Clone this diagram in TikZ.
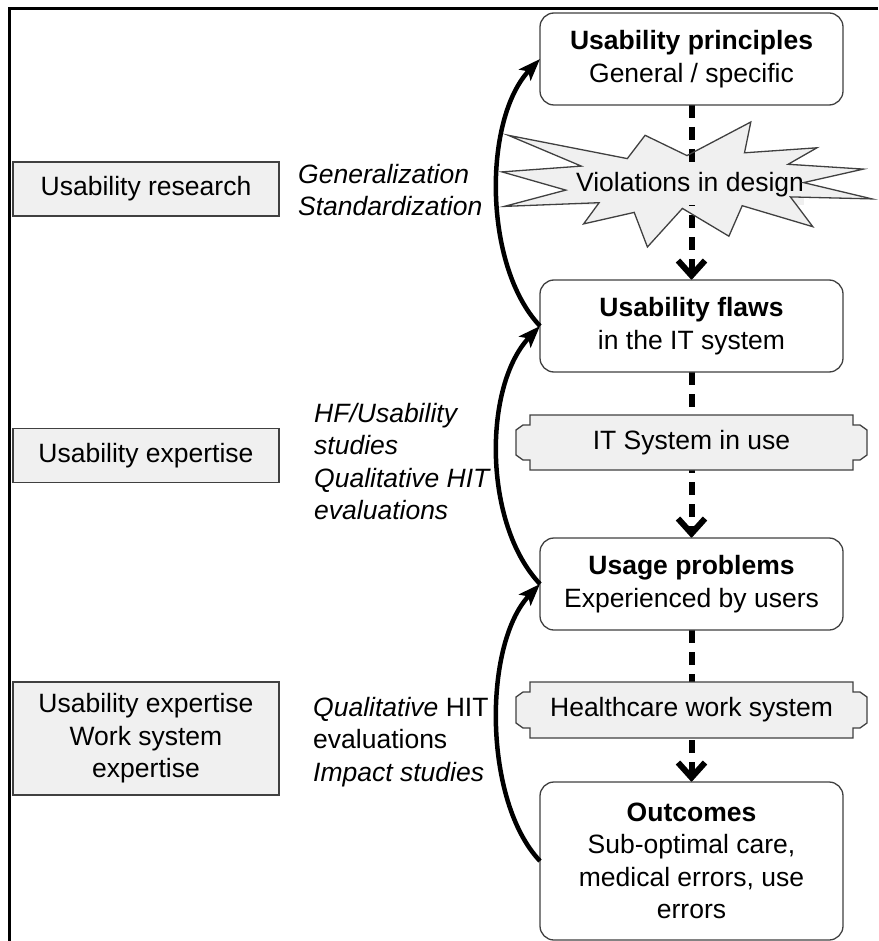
\documentclass[tikz,border=0pt]{standalone}
\usepackage{fontspec}
\setmainfont{Liberation Sans}
\usetikzlibrary{arrows.meta}
\definecolor{boxline}{HTML}{404040}
\definecolor{lightfill}{HTML}{F0F0F0}
\pgfdeclarelayer{back}
\pgfdeclarelayer{mid}
\pgfdeclarelayer{bfill}
\pgfsetlayers{back,mid,bfill,main}
\newcommand\brackpath[2]{\filldraw[bracket] (#1.north west) -- ++(0,10) -- ++(-7,0) -- ++(-7,5) -- ++(0,#2) -- ++(7,5) -- ++(7,0) -- (#1.south west) -- (#1.south east) -- ++(0,-10) -- ++(7,0) -- ++(7,-5) -- ++(0,-#2) -- ++(-7,-5) -- ++(-7,0) -- (#1.north east) -- cycle;}
\tikzset{
  txt/.style={font=\fontsize{26.5}{32.5}\selectfont},
  rbox/.style={txt, draw=boxline, fill=white, line width=1.3pt, rounded corners=14pt,
    minimum width=303, minimum height=92, align=center, inner sep=0, outer sep=0},
  lbox/.style={txt, draw=boxline, fill=lightfill, line width=1.3pt,
    minimum width=266, minimum height=54, align=center, inner sep=0, outer sep=0},
  brk/.style={txt, minimum width=323, minimum height=55, inner sep=0, outer sep=0},
  bracket/.style={draw=boxline, fill=lightfill, line width=1.3pt},
  itxt/.style={txt, anchor=west, align=left, inner sep=0},
  viol/.style={txt, fill=lightfill, inner xsep=0, inner ysep=8pt},
  dconn/.style={line width=6pt, dash pattern=on 13pt off 9pt,
    -{Straight Barb[length=15pt,width=27pt,line width=6pt]}},
  carrow/.style={line width=4.5pt, -{Stealth[length=22pt,width=16pt,inset=5pt]}},
  burstshape/.style={insert path={(687,155.6) -- (750.8,122) -- (744.5,152.8) -- (816.9,147.8) -- (788.1,164.3) -- (863.4,169.1) -- (803.6,182.6) -- (872,198.9) -- (790.4,196.9) -- (812.8,226.7) -- (742.2,205.7) -- (728.9,236.2) -- (682.4,208.4) -- (647.4,247) -- (634.2,212.4) -- (583.6,223.9) -- (599.1,202.7) -- (504.3,206.4) -- (565.8,190.1) -- (502,171.9) -- (581.3,166.1) -- (508.3,135.3) -- (627.3,158.6) -- (645.1,135.3) -- cycle}}
}
\begin{document}
\begin{tikzpicture}[x=1pt,y=-1pt]
\useasboundingbox (0,0) rectangle (878,941);
% frame
\draw[line width=3pt] (9,941) -- (9,9) -- (878,9);

% starburst (fill)
\begin{pgfonlayer}{back}
\path[fill=lightfill, burstshape];
\end{pgfonlayer}

% right column boxes
\node[rbox] (b1) at (691.5,59) {\textbf{Usability principles}\\General / specific};
\node[rbox] (b2) at (691.5,326) {\textbf{Usability flaws}\\in the IT system};
\node[rbox] (b3) at (691.5,584) {\textbf{Usage problems}\\Experienced by users};
\node[rbox, minimum height=158] (b4) at (691.5,861) {\textbf{Outcomes}\\Sub-optimal care,\\medical errors, use\\errors};

% bracket shapes
\node[brk] (its) at (691.5,442.5) {IT System in use};
\node[brk, minimum height=56] (hws) at (691.5,710) {Healthcare work system};
\begin{pgfonlayer}{bfill}
\brackpath{its}{25}
\brackpath{hws}{26}
\end{pgfonlayer}

% violations text and starburst outline
\node[viol] (vio) at (690,184.7) {Violations in design};
\path[draw=boxline, line width=1.3pt, line join=miter, burstshape];

% dashed connectors
\begin{pgfonlayer}{mid}
\draw[dconn] (b1.south) -- (b2.north);
\draw[dconn] (b2.south) -- (b3.north);
\draw[dconn] (b3.south) -- (b4.north);
\end{pgfonlayer}

% left boxes
\node[lbox] (l1) at (146,189) {Usability research};
\node[lbox] (l2) at (146,455.5) {Usability expertise};
\node[lbox, minimum height=113] (l3) at (146,738.5) {Usability expertise\\Work system\\expertise};

% italic labels
\node[itxt, font=\fontsize{26.5}{32.5}\selectfont\itshape] (t1) at (298,190) {Generalization\\Standardization};
\node[itxt, font=\fontsize{26.5}{32.5}\selectfont\itshape] (t2) at (314,461.5) {HF/Usability\\studies\\Qualitative HIT\\evaluations};
\node[itxt] (t3) at (313,742) {\textit{Qualitative} HIT\\evaluations\\\textit{Impact studies}};

% curved arrows
\draw[carrow] (b2.west) .. controls +(-57,-60) and +(-57,60) .. (b1.west);
\draw[carrow] (b3.west) .. controls +(-57,-60) and +(-57,60) .. (b2.west);
\draw[carrow] (b4.west) .. controls +(-57,-60) and +(-57,60) .. (b3.west);
\end{tikzpicture}
\end{document}
